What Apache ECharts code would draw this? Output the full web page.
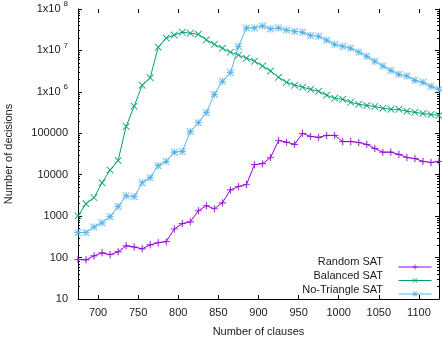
<!DOCTYPE html>
<html>
<head>
<meta charset="utf-8">
<script src="https://cdn.jsdelivr.net/npm/echarts@6/dist/echarts.min.js"></script>
<style>
  html, body { margin: 0; padding: 0; background: #fff; }
  #main { width: 442px; height: 338px; }
</style>
</head>
<body>
<div id="main"></div>
<script>
// number of clauses (x)
const clauses = [675, 685, 695, 705, 715, 725, 735, 745, 755, 765,
  775, 785, 795, 805, 815, 825, 835, 845, 855, 865,
  875, 885, 895, 905, 915, 925, 935, 945, 955, 965,
  975, 985, 995, 1005, 1015, 1025, 1035, 1045, 1055, 1065,
  1075, 1085, 1095, 1105, 1115, 1125];

// number of decisions
const randomSat = [90, 88, 110, 130, 117, 138, 192, 180, 163, 203,
  228, 242, 490, 660, 730, 1350, 1780, 1510, 2100, 4300,
  5200, 5800, 17500, 18500, 26000, 67000, 61000, 54000, 100000, 84000,
  80000, 89000, 89000, 63000, 63000, 60000, 54000, 43000, 35000, 35000,
  31000, 26000, 24500, 21000, 19700, 21000];
const balancedSat = [1020, 2000, 2800, 6400, 13000, 22000, 146000, 450000, 1.45e6, 2.2e6,
  1.2e7, 2.0e7, 2.35e7, 2.75e7, 2.6e7, 2.45e7, 1.8e7, 1.4e7, 1.13e7, 9.1e6,
  7.7e6, 6.5e6, 5.5e6, 4.2e6, 3.2e6, 2.25e6, 1.7e6, 1.45e6, 1.3e6, 1.15e6,
  1.03e6, 830000, 700000, 660000, 560000, 500000, 470000, 445000, 400000, 380000,
  380000, 340000, 320000, 300000, 285000, 270000];
const noTriangleSat = [400, 400, 550, 690, 970, 1700, 3100, 2950, 6400, 8500,
  16500, 21000, 35000, 36500, 110000, 180000, 315000, 870000, 1.8e6, 2.9e6,
  1.25e7, 3.5e7, 3.5e7, 3.9e7, 3.3e7, 3.5e7, 3.1e7, 2.9e7, 2.75e7, 2.3e7,
  2.2e7, 1.77e7, 1.4e7, 1.25e7, 1.13e7, 9.1e6, 7.2e6, 5.5e6, 4.2e6, 3.3e6,
  2.65e6, 2.4e6, 1.9e6, 1.7e6, 1.35e6, 1.15e6];

const seriesNames = ['Random SAT', 'Balanced SAT', 'No-Triangle SAT'];

// tick labels
const xTicks = [700, 750, 800, 850, 900, 950, 1000, 1050, 1100];
const yTicks = [10, 100, 1000, 10000, 100000, 1e6, 1e7, 1e8];

// gnuplot style minor ticks (2..9 in every decade)
const yMinor = [];
for (let d = 10; d < 1e8; d *= 10) {
  for (let k = 2; k <= 9; k++) yMinor.push(k * d);
}

const FONT = 'Liberation Sans';
const TXT = '#1a1a1a';

// point types: + , x , *
const plusPath = 'path://M4.5,0H5.5V4.5H10V5.5H5.5V10H4.5V5.5H0V4.5H4.5Z';
const crossPath = 'path://M0,0.7L0.7,0L5,4.3L9.3,0L10,0.7L5.7,5L10,9.3L9.3,10L5,5.7L0.7,10L0,9.3L4.3,5Z';
const starPath = plusPath + 'M0,0.7L0.7,0L5,4.3L9.3,0L10,0.7L5.7,5L10,9.3L9.3,10L5,5.7L0.7,10L0,9.3L4.3,5Z';

const mkSeries = (name, vals, color, symbol) => ({
  name: name,
  type: 'line',
  data: clauses.map((c, i) => [c, vals[i]]),
  symbol: symbol,
  symbolSize: 7,
  showAllSymbol: true,
  lineStyle: { color: color, width: 1 },
  itemStyle: { color: color, borderColor: color, borderWidth: 0.2 },
  emphasis: { disabled: true },
  animation: false
});

const yBase = (pos) => ({
  type: 'log',
  logBase: 10,
  min: 10,
  max: 1e8,
  position: pos,
  splitLine: { show: false },
  axisLabel: { show: false },
  axisLine: { show: false },
  axisTick: { show: false }
});

const xBase = (pos) => ({
  type: 'value',
  min: 675,
  max: 1125,
  position: pos,
  splitLine: { show: false },
  axisLabel: { show: false },
  axisLine: { show: false },
  axisTick: { show: false }
});

// key texts, right aligned left of the legend samples (gnuplot style)
const keyTexts = seriesNames.map((n, i) => ({
  type: 'text',
  x: 383,
  y: 262 + i * 14,
  style: {
    text: n,
    textAlign: 'right',
    textVerticalAlign: 'middle',
    font: '11px "Liberation Sans"',
    fill: TXT
  }
}));

const chart = echarts.init(document.getElementById('main'));
const option = {
  animation: false,
  textStyle: { fontFamily: FONT, color: TXT },
  grid: { left: 78, right: 3, top: 9, bottom: 39, containLabel: false, outerBoundsMode: 'none' },
  legend: {
    orient: 'vertical',
    left: 393,
    top: 259,
    align: 'left',
    itemWidth: 33,
    itemHeight: 6,
    itemGap: 8,
    itemStyle: { borderWidth: 0.2 },
    lineStyle: { width: 1 },
    formatter: () => '',
    textStyle: { fontFamily: FONT, fontSize: 11, color: TXT },
    data: seriesNames
  },
  graphic: keyTexts,
  xAxis: [
    Object.assign(xBase('bottom'), {
      name: 'Number of clauses',
      nameLocation: 'middle',
      nameGap: 27,
      nameTextStyle: { fontFamily: FONT, fontSize: 11, color: TXT },
      axisLine: { show: true, lineStyle: { color: '#000', width: 1 } },
      axisTick: { show: true, inside: true, length: 4, customValues: xTicks, lineStyle: { color: '#000' } },
      axisLabel: { show: true, customValues: xTicks, margin: 8, fontFamily: FONT, fontSize: 11, color: TXT,
        formatter: (v) => String(v) }
    }),
    Object.assign(xBase('top'), {
      axisTick: { show: true, inside: true, length: 4, customValues: xTicks, lineStyle: { color: '#000' } }
    })
  ],
  yAxis: [
    Object.assign(yBase('left'), {
      name: 'Number of decisions',
      nameLocation: 'middle',
      nameGap: 64,
      nameTextStyle: { fontFamily: FONT, fontSize: 11, color: TXT },
      axisLine: { show: true, lineStyle: { color: '#000', width: 1 } },
      axisTick: { show: true, inside: true, length: 4, customValues: yTicks, lineStyle: { color: '#000' } },
      axisLabel: {
        show: true,
        customValues: yTicks,
        margin: 10,
        fontFamily: FONT,
        fontSize: 11,
        color: TXT,
        formatter: (v) => {
          const e = Math.round(Math.log10(v));
          return e >= 6 ? '{b|1x10}{s|' + e + '}' : '{b|' + Math.round(v) + '}';
        },
        rich: {
          b: { fontFamily: FONT, fontSize: 11, color: TXT, lineHeight: 14 },
          s: { fontFamily: FONT, fontSize: 8, color: TXT, lineHeight: 14, padding: [0, 0, 10, 3] }
        }
      }
    }),
    Object.assign(yBase('left'), {
      axisTick: { show: true, inside: true, length: 2, customValues: yMinor, lineStyle: { color: '#000' } }
    }),
    Object.assign(yBase('right'), {
      axisLine: { show: true, lineStyle: { color: '#000', width: 1 } },
      axisTick: { show: true, inside: true, length: 4, customValues: yTicks, lineStyle: { color: '#000' } }
    }),
    Object.assign(yBase('right'), {
      axisTick: { show: true, inside: true, length: 2, customValues: yMinor, lineStyle: { color: '#000' } }
    })
  ],
  series: [
    mkSeries(seriesNames[0], randomSat, '#9400d3', plusPath),
    mkSeries(seriesNames[1], balancedSat, '#009e73', crossPath),
    mkSeries(seriesNames[2], noTriangleSat, '#56b4e9', starPath)
  ]
};
chart.setOption(option);
</script>
</body>
</html>
